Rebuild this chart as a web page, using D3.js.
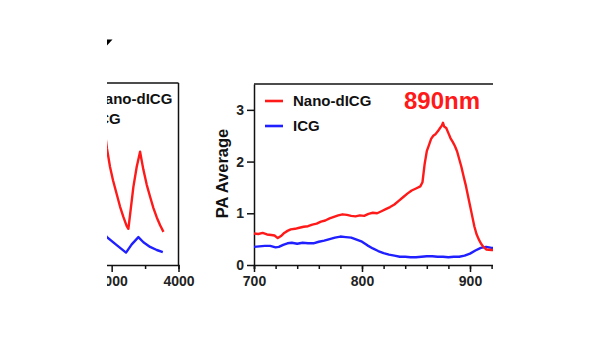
<!DOCTYPE html>
<html>
<head>
<meta charset="utf-8">
<script src="https://cdn.jsdelivr.net/npm/d3@7"></script>
<style>
  body { margin: 0; background: #fff; }
  svg { display: block; }
  text { font-family: "Liberation Sans", Arial, sans-serif; font-weight: bold; }
</style>
</head>
<body>
<div id="chart"></div>
<script>
// series names and colours
const seriesNames = ['Nano-dICG', 'ICG']
const seriesColours = ['#ff1a1a', '#1f1fff']

// left panel (time course, only its right end is shown)
const leftX = [2900, 2930, 2975, 3020, 3080, 3125, 3175, 3225, 3250, 3325, 3375, 3425, 3475, 3525, 3575, 3625, 3675, 3725, 3775]
const leftNano = [2.55, 2.25, 1.90, 1.64, 1.35, 1.13, 0.93, 0.75, 0.70, 1.51, 1.90, 2.19, 1.84, 1.55, 1.32, 1.10, 0.92, 0.77, 0.64]
const leftIcgX = [2900, 2930, 3080, 3215, 3300, 3400, 3475, 3575, 3675, 3765]
const leftIcg = [0.58, 0.54, 0.38, 0.24, 0.40, 0.54, 0.44, 0.35, 0.29, 0.25]
const leftTicks = [3000, 4000]

// right panel: PA spectrum, wavelength in nm
const nanoWl = [700, 704, 708, 712, 716, 719, 722, 725, 728, 731, 734, 738, 742, 746, 750, 754, 758, 762, 766, 770,
  774, 778, 782, 786, 790, 794, 798, 802, 806, 810, 814, 818, 822, 826, 830, 834, 838, 842, 846, 850,
  854, 856, 858, 860, 862, 864, 866, 868, 870, 872, 874, 875, 876, 878, 880, 882, 884, 886, 888, 890,
  892, 894, 896, 897, 900, 902, 904, 906, 908, 910, 912, 915, 920, 925, 930]
const nanoPA = [0.61, 0.60, 0.62, 0.59, 0.58, 0.57, 0.52, 0.56, 0.62, 0.66, 0.69, 0.70, 0.72, 0.74, 0.75, 0.78, 0.80, 0.84, 0.86, 0.90,
  0.93, 0.96, 0.98, 0.97, 0.95, 0.94, 0.96, 0.95, 0.99, 1.01, 1.00, 1.04, 1.08, 1.12, 1.17, 1.24, 1.31, 1.38, 1.44, 1.48,
  1.52, 1.60, 1.95, 2.20, 2.32, 2.44, 2.50, 2.53, 2.58, 2.64, 2.70, 2.75, 2.68, 2.65, 2.55, 2.45, 2.38, 2.30, 2.20, 2.05,
  1.90, 1.72, 1.55, 1.45, 1.15, 0.95, 0.75, 0.60, 0.50, 0.42, 0.36, 0.30, 0.29, 0.29, 0.28]
const icgWl = [700, 705, 710, 715, 720, 723, 727, 731, 735, 740, 745, 750, 755, 760, 765, 770, 775, 780, 785, 790,
  795, 800, 805, 810, 815, 820, 825, 830, 835, 840, 845, 850, 855, 860, 865, 870, 875, 880, 885, 890,
  895, 900, 905, 910, 915, 920, 925, 930]
const icgPA = [0.35, 0.36, 0.37, 0.37, 0.34, 0.35, 0.39, 0.42, 0.43, 0.41, 0.43, 0.42, 0.42, 0.45, 0.47, 0.50, 0.53, 0.55, 0.54, 0.53,
  0.49, 0.45, 0.38, 0.32, 0.27, 0.23, 0.20, 0.18, 0.16, 0.16, 0.15, 0.15, 0.16, 0.17, 0.17, 0.16, 0.16, 0.15, 0.16, 0.16,
  0.18, 0.22, 0.28, 0.33, 0.35, 0.33, 0.32, 0.31]
const yTicks = [0, 1, 2, 3]
const wlMajor = [700, 800, 900]
const wlMinor = d3.range(700, 941, 20)

const width = 600
const height = 338
const plain = d3.format('d')

const svg = d3.select('#chart')
  .append('svg')
  .attr('width', width)
  .attr('height', height)

svg.append('defs').append('clipPath')
  .attr('id', 'crop')
  .append('rect')
  .attr('x', 107).attr('y', 0)
  .attr('width', 386).attr('height', height)

const root = svg.append('g').attr('clip-path', 'url(#crop)')

const y = d3.scaleLinear().domain([0, 3.5]).range([265, 84])

const line = (xs, x) => d3.line()
  .x((d, i) => x(xs[i]))
  .y(d => y(d))

const styleAxis = g => {
  g.selectAll('path, line').attr('stroke', '#111').attr('stroke-width', 1.5)
  g.selectAll('text').style('font-size', '14px').attr('fill', '#222')
}

// corner mark of the cut-off panel letter
root.append('path')
  .attr('d', 'M107,39.5 L112.5,39.5 L107,45.5 Z')
  .attr('fill', '#000')

// ---------- left panel ----------
const xl = d3.scaleLinear().domain([2800, 4000]).range([98.3, 178.5])
const left = root.append('g')

left.append('g')
  .attr('transform', 'translate(0,265)')
  .call(d3.axisBottom(xl).tickValues([3500]).tickSize(4).tickFormat(''))
  .call(styleAxis)
left.append('g')
  .attr('transform', 'translate(0,265)')
  .call(d3.axisBottom(xl).tickValues(leftTicks).tickSize(7).tickPadding(4).tickFormat(plain))
  .call(styleAxis)
  .call(g => g.select('.domain').remove())

left.append('line')
  .attr('x1', 90).attr('x2', xl(4000))
  .attr('y1', y(3.5) - 1).attr('y2', y(3.5) - 1)
  .attr('stroke', '#111').attr('stroke-width', 1.5)
left.append('line')
  .attr('x1', xl(4000)).attr('x2', xl(4000))
  .attr('y1', y(3.5) - 1).attr('y2', 265)
  .attr('stroke', '#111').attr('stroke-width', 1.5)

left.append('path')
  .attr('d', line(leftX, xl)(leftNano))
  .attr('fill', 'none').attr('stroke', seriesColours[0])
  .attr('stroke-width', 2.4).attr('stroke-linejoin', 'round')
left.append('path')
  .attr('d', line(leftIcgX, xl)(leftIcg))
  .attr('fill', 'none').attr('stroke', seriesColours[1])
  .attr('stroke-width', 2.4).attr('stroke-linejoin', 'round')

left.selectAll('.lg')
  .data(seriesNames)
  .join('text')
  .attr('x', 94)
  .attr('y', (d, i) => 104 + i * 20)
  .style('font-size', '15px')
  .attr('fill', '#111')
  .text(d => d)

// ---------- right panel ----------
const xr = d3.scaleLinear().domain([700, 940]).range([254, 513.2])
const right = root.append('g')

right.append('g')
  .attr('transform', 'translate(0,265)')
  .call(d3.axisBottom(xr).tickValues(wlMinor).tickSize(4).tickFormat(''))
  .call(styleAxis)
right.append('g')
  .attr('transform', 'translate(0,265)')
  .call(d3.axisBottom(xr).tickValues(wlMajor).tickSize(7).tickPadding(4).tickFormat(plain))
  .call(styleAxis)
  .call(g => g.select('.domain').remove())

right.append('g')
  .attr('transform', `translate(${xr(700)},0)`)
  .call(d3.axisLeft(y).tickValues(yTicks).tickSize(7).tickPadding(3).tickSizeOuter(0).tickFormat(plain))
  .call(styleAxis)

right.append('line')
  .attr('x1', xr(700)).attr('x2', xr(940))
  .attr('y1', y(3.5)).attr('y2', y(3.5))
  .attr('stroke', '#111').attr('stroke-width', 1.5)

right.append('text')
  .attr('transform', `translate(228,${(y(0) + y(3.5)) / 2 - 1}) rotate(-90)`)
  .attr('text-anchor', 'middle')
  .style('font-size', '16.5px')
  .attr('fill', '#111')
  .text('PA Average')

right.append('path')
  .attr('d', line(icgWl, xr)(icgPA))
  .attr('fill', 'none').attr('stroke', seriesColours[1])
  .attr('stroke-width', 2.4).attr('stroke-linejoin', 'round')
right.append('path')
  .attr('d', line(nanoWl, xr)(nanoPA))
  .attr('fill', 'none').attr('stroke', seriesColours[0])
  .attr('stroke-width', 2.4).attr('stroke-linejoin', 'round')

// legend
const legend = right.append('g')
legend.selectAll('line')
  .data(seriesNames)
  .join('line')
  .attr('x1', 265).attr('x2', 283)
  .attr('y1', (d, i) => 101 + i * 25)
  .attr('y2', (d, i) => 101 + i * 25)
  .attr('stroke', (d, i) => seriesColours[i])
  .attr('stroke-width', 2.6)
legend.selectAll('text')
  .data(seriesNames)
  .join('text')
  .attr('x', 293)
  .attr('y', (d, i) => 106 + i * 25)
  .style('font-size', '15px')
  .attr('fill', '#111')
  .text(d => d)

right.append('text')
  .attr('x', 404)
  .attr('y', 108.5)
  .style('font-size', '24px')
  .attr('fill', seriesColours[0])
  .text('890nm')
</script>
</body>
</html>
